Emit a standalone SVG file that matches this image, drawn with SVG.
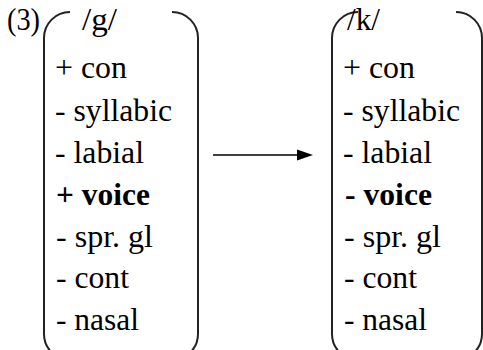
<svg xmlns="http://www.w3.org/2000/svg" width="483" height="350" viewBox="0 0 483 350">
<defs>
<style>
text{font-family:'Liberation Serif','Times New Roman',serif;font-size:31.5px;fill:#000}
.b{font-weight:bold}
.br{fill:none;stroke:#222;stroke-width:2}
</style>
</defs>
<rect width="483" height="350" fill="#fff"/>
<text x="7" y="30" textLength="33" lengthAdjust="spacingAndGlyphs">(3)</text>
<g id="left">
<path class="br" d="M70,12 A26,26 0 0 0 44,38 V334 A26,26 0 0 0 70,360"/>
<path class="br" d="M172,12 A26,26 0 0 1 198,38 V334 A26,26 0 0 1 172,360"/>
<text x="82" y="30" textLength="35" lengthAdjust="spacingAndGlyphs">/g/</text>
<text x="55" y="78" textLength="72" lengthAdjust="spacingAndGlyphs">+ con</text>
<text x="55" y="121" textLength="117" lengthAdjust="spacingAndGlyphs">- syllabic</text>
<text x="55" y="163" textLength="89" lengthAdjust="spacingAndGlyphs">- labial</text>
<text x="56" y="205" class="b" textLength="94" lengthAdjust="spacingAndGlyphs">+ voice</text>
<text x="56" y="247" textLength="97" lengthAdjust="spacingAndGlyphs">- spr. gl</text>
<text x="56" y="288" textLength="73" lengthAdjust="spacingAndGlyphs">- cont</text>
<text x="56" y="330" textLength="83" lengthAdjust="spacingAndGlyphs">- nasal</text>
</g>
<g id="right">
<path class="br" d="M358,12 A26,26 0 0 0 332,38 V334 A26,26 0 0 0 358,360"/>
<path class="br" d="M456,12 A26,26 0 0 1 482,38 V334 A26,26 0 0 1 456,360"/>
<text x="347" y="30" textLength="33" lengthAdjust="spacingAndGlyphs">/k/</text>
<text x="343" y="78" textLength="72" lengthAdjust="spacingAndGlyphs">+ con</text>
<text x="343" y="121" textLength="117" lengthAdjust="spacingAndGlyphs">- syllabic</text>
<text x="343" y="163" textLength="89" lengthAdjust="spacingAndGlyphs">- labial</text>
<text x="345" y="205" class="b" textLength="87" lengthAdjust="spacingAndGlyphs">- voice</text>
<text x="344" y="247" textLength="97" lengthAdjust="spacingAndGlyphs">- spr. gl</text>
<text x="344" y="288" textLength="73" lengthAdjust="spacingAndGlyphs">- cont</text>
<text x="344" y="330" textLength="83" lengthAdjust="spacingAndGlyphs">- nasal</text>
</g>
<g id="connectors">
<line x1="213" y1="155" x2="300" y2="155" stroke="#000" stroke-width="1.5"/>
<path d="M297,149.5 L313,155 L297,160.5 Z" fill="#000"/>
</g>
</svg>
